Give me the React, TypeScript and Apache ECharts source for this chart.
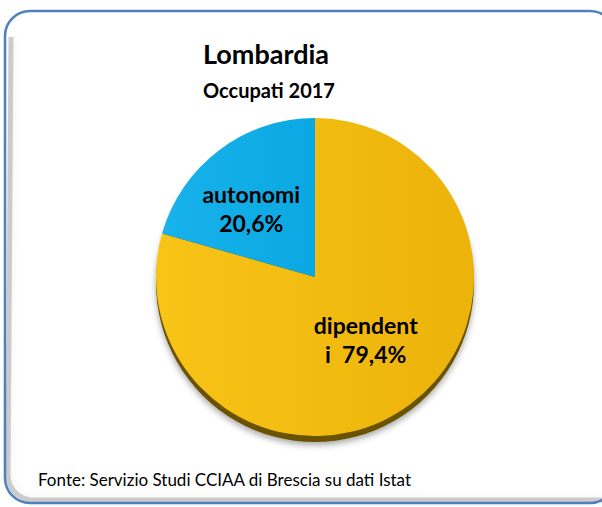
import React, { useEffect, useRef } from "react";
import * as echarts from "echarts";

const categories = ["dipendenti", "autonomi"];
const values = [79.4, 20.6];
const labelTexts = ["dipendent\ni  79,4%", "autonomi\n20,6%"];
const titleText = "Lombardia";
const subtitleText = "Occupati 2017";
const sourceText = "Fonte: Servizio Studi CCIAA di Brescia su dati Istat";

export default function App() {
  const ref = useRef<HTMLDivElement>(null);
  useEffect(() => {
    const chart = echarts.init(ref.current!, null, { renderer: "svg" });
    const cx = 315;
    const cy = 277;
    const r = 159;
    const shadowPts: number[][] = [];
    shadowPts.push([8, 40]);
    const rc = 25;
    for (let i = 0; i <= 10; i++) {
      const a = Math.PI - (i / 10) * (Math.PI / 2);
      shadowPts.push([5 + rc + rc * Math.cos(a), 503 - rc + rc * Math.sin(a)]);
    }
    shadowPts.push([640, 503]);
    const colors = [
      new echarts.graphic.LinearGradient(0, 0, 1, 0, [
        { offset: 0, color: "#f8c416" },
        { offset: 1, color: "#ecb30a" },
      ]),
      new echarts.graphic.LinearGradient(0, 0, 1, 0, [
        { offset: 0, color: "#18b2ec" },
        { offset: 1, color: "#0aa8e2" },
      ]),
    ];
    chart.setOption({
      animation: false,
      backgroundColor: "#ffffff",
      graphic: [
        {
          type: "polyline",
          z: 0,
          shape: { points: shadowPts.map((p) => [p[0] + 3, p[1] - 3]) },
          style: {
            fill: null,
            stroke: "rgba(0,0,0,0.18)",
            lineWidth: 5,
            shadowBlur: 8,
            shadowColor: "rgba(0,0,0,0.35)",
          },
        },
        {
          type: "rect",
          z: 1,
          shape: { x: 5, y: 11, width: 610, height: 492, r: 25 },
          style: { fill: null, stroke: "#4f81bd", lineWidth: 2.5 },
        },
        {
          type: "circle",
          z: 0,
          shape: { cx: cx, cy: cy + 6, r: r },
          style: {
            fill: "#6a5300",
            shadowBlur: 6,
            shadowOffsetY: 3,
            shadowColor: "rgba(0,0,0,0.35)",
          },
        },
        {
          type: "text",
          z: 5,
          x: 266,
          y: 53,
          style: {
            text: titleText,
            fontFamily: "Lato",
            fontWeight: "bold",
            fontSize: 27,
            fill: "#000",
            align: "center",
            verticalAlign: "middle",
          },
        },
        {
          type: "text",
          z: 5,
          x: 269,
          y: 90,
          style: {
            text: subtitleText,
            fontFamily: "Lato",
            fontWeight: "bold",
            fontSize: 20,
            fill: "#000",
            align: "center",
            verticalAlign: "middle",
          },
        },
        {
          type: "text",
          z: 5,
          x: 38,
          y: 479,
          style: {
            text: sourceText,
            fontFamily: "Lato",
            fontSize: 17,
            fill: "#000",
            align: "left",
            verticalAlign: "middle",
          },
        },
      ],
      series: [
        {
          type: "pie",
          center: [cx, cy],
          radius: r,
          startAngle: 90,
          clockwise: true,
          silent: true,
          label: {
            show: true,
            position: "inside",
            formatter: (p: any) => labelTexts[p.dataIndex],
            fontFamily: "Lato",
            fontWeight: "bold",
            fontSize: 23,
            lineHeight: 29,
            color: "#000",
          },
          labelLine: { show: false },
          itemStyle: { borderWidth: 0 },
          data: categories.map((c, i) => ({
            name: c,
            value: values[i],
            itemStyle: { color: colors[i] },
            label: i === 1 ? { offset: [-14, -3] } : { offset: [1, -3] },
          })),
        },
      ],
    });
    return () => chart.dispose();
  }, []);
  return (
    <div
      ref={ref}
      style={{ position: "fixed", left: 0, top: 0, width: 602, height: 507 }}
    />
  );
}
